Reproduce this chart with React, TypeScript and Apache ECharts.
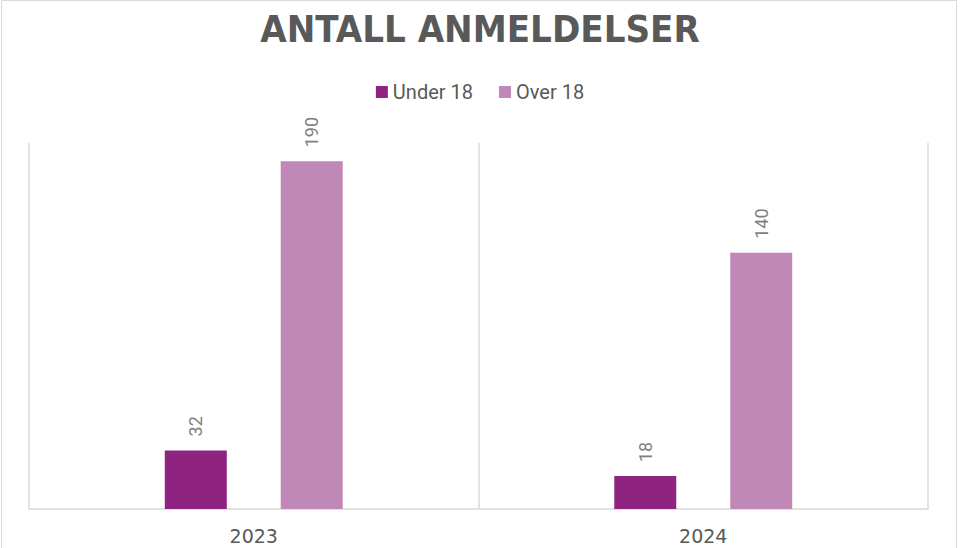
import React, { useEffect, useRef } from "react";
import * as echarts from "echarts";

const categories = ["2023", "2024"];
const under18 = [32, 18];
const over18 = [190, 140];
const seriesNames = ["Under 18", "Over 18"];
const title = "ANTALL ANMELDELSER";

export default function App() {
  const ref = useRef<HTMLDivElement>(null);
  useEffect(() => {
    document.body.style.margin = "0";
    const chart = echarts.init(ref.current!, null, { renderer: "svg" });
    const label = {
      show: true,
      position: "top",
      rotate: 90,
      align: "left",
      verticalAlign: "middle",
      distance: 14,
      color: "#7f7f7f",
      fontSize: 18,
      fontFamily: "Roboto",
    };
    chart.setOption({
      animation: false,
      backgroundColor: "#ffffff",
      title: {
        text: title,
        left: "center",
        top: 5,
        textStyle: {
          fontFamily: "DejaVu Sans Condensed",
          fontWeight: "bold",
          fontSize: 38,
          color: "#595959",
        },
      },
      legend: {
        top: 77,
        left: "center",
        itemWidth: 12,
        itemHeight: 12,
        itemGap: 26,
        icon: "rect",
        textStyle: { fontFamily: "Roboto", fontSize: 20, color: "#595959" },
        data: seriesNames,
      },
      grid: { left: 29, right: 32, top: 143, bottom: 39 },
      xAxis: {
        type: "category",
        data: categories,
        axisTick: { show: false },
        axisLine: { lineStyle: { color: "#d9d9d9", width: 1.5 } },
        splitLine: { show: true, lineStyle: { color: "#d9d9d9", width: 1.5 } },
        axisLabel: {
          margin: 17,
          fontFamily: "DejaVu Sans",
          fontSize: 19,
          color: "#595959",
        },
      },
      yAxis: {
        type: "value",
        min: 0,
        max: 200,
        show: false,
        splitLine: { show: false },
      },
      graphic: [
        {
          type: "rect",
          shape: { x: 1.5, y: 0.5, width: 955, height: 600 },
          style: { fill: "none", stroke: "#d9d9d9", lineWidth: 1 },
          silent: true,
        },
      ],
      series: [
        {
          name: seriesNames[0],
          type: "bar",
          data: under18,
          barWidth: 62,
          barGap: "87%",
          itemStyle: { color: "#8e2480" },
          label,
        },
        {
          name: seriesNames[1],
          type: "bar",
          data: over18,
          barWidth: 62,
          barGap: "87%",
          itemStyle: { color: "#bf88b6" },
          label,
        },
      ],
    });
    return () => chart.dispose();
  }, []);
  return <div ref={ref} style={{ width: 960, height: 548 }} />;
}
